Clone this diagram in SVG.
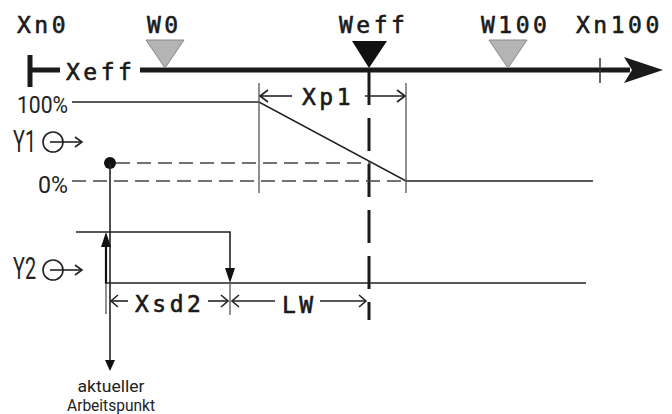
<svg xmlns="http://www.w3.org/2000/svg" width="672" height="414" viewBox="0 0 672 414">
<style>
.mono{font-family:"DejaVu Sans Mono","Liberation Mono",monospace;font-size:23px;letter-spacing:3.5px;fill:#1a1a1a;stroke:#1a1a1a;stroke-width:0.6}
.sans{font-family:"Roboto","Liberation Sans",sans-serif;font-weight:400;fill:#222}
.thin{stroke:#222;stroke-width:1.6;fill:none}
.grey{stroke:#555;stroke-width:1.3;fill:none}
.dash{stroke:#444;stroke-width:1.4;fill:none;stroke-dasharray:14 7}
.open{stroke:#222;stroke-width:1.6;fill:none;stroke-linejoin:miter}
</style>
<rect width="672" height="414" fill="#fff"/>

<g id="axis">
  <line x1="30" y1="55" x2="30" y2="87" stroke="#1a1a1a" stroke-width="5"/>
  <line x1="30" y1="70" x2="60" y2="70" stroke="#1a1a1a" stroke-width="5"/>
  <line x1="140" y1="70" x2="630" y2="70" stroke="#1a1a1a" stroke-width="5"/>
  <polygon points="624,57 663,70 624,83 632,70" fill="#1a1a1a"/>
  <line x1="600" y1="58" x2="600" y2="83" stroke="#333" stroke-width="1.5"/>
  <text class="mono" x="66" y="80">Xeff</text>
</g>

<g id="labels-top">
  <text class="mono" x="17" y="33">Xn0</text>
  <text class="mono" x="147" y="33">W0</text>
  <text class="mono" x="339" y="33">Weff</text>
  <text class="mono" x="481" y="33">W100</text>
  <text class="mono" x="576" y="33">Xn100</text>
</g>

<g id="markers">
  <polygon points="146,40 184,40 165,68" fill="#b4b4b4" stroke="#888" stroke-width="1"/>
  <polygon points="352,41 387,41 369,68" fill="#111"/>
  <polygon points="489,40 527,40 508,68" fill="#b4b4b4" stroke="#888" stroke-width="1"/>
</g>

<g id="weff-line">
  <line x1="369" y1="72" x2="369" y2="320" stroke="#1a1a1a" stroke-width="3" stroke-dasharray="33 13"/>
</g>

<g id="y1">
  <text class="sans" x="17" y="113" font-size="23" textLength="51" lengthAdjust="spacingAndGlyphs">100%</text>
  <text class="sans" x="38" y="193" font-size="24" textLength="30" lengthAdjust="spacingAndGlyphs">0%</text>
  <text class="sans" x="13" y="152" font-size="31" textLength="23" lengthAdjust="spacingAndGlyphs">Y1</text>
  <circle cx="53" cy="142" r="10" class="thin"/>
  <line x1="50" y1="142" x2="81" y2="142" class="thin"/>
  <polyline points="75,137 82,142 75,147" class="open"/>
  <polyline points="72,102 259,102 406,181 593,181" class="thin" stroke-width="1.8"/>
  <line x1="259" y1="83" x2="259" y2="193" class="grey"/>
  <line x1="406" y1="83" x2="406" y2="193" class="grey"/>
  <line x1="72" y1="181" x2="406" y2="181" class="dash"/>
  <line x1="116" y1="163" x2="371" y2="163" class="dash"/>
</g>

<g id="xp1">
  <line x1="260" y1="96" x2="292" y2="96" class="thin"/>
  <polyline points="268,90 260,96 268,102" class="open"/>
  <text class="mono" x="302" y="105">Xp1</text>
  <line x1="365" y1="96" x2="405" y2="96" class="thin"/>
  <polyline points="397,90 405,96 397,102" class="open"/>
</g>

<g id="arbeitspunkt">
  <circle cx="110" cy="163" r="6" fill="#111"/>
  <line x1="110" y1="163" x2="110" y2="362" class="thin" stroke-width="1.4"/>
  <polygon points="105,360 115,360 110,371" fill="#111"/>
  <text class="sans" x="111" y="392" font-size="17" text-anchor="middle" textLength="67" lengthAdjust="spacingAndGlyphs">aktueller</text>
  <text class="sans" x="111" y="411" font-size="17" text-anchor="middle" textLength="88" lengthAdjust="spacingAndGlyphs">Arbeitspunkt</text>
</g>

<g id="y2">
  <text class="sans" x="13" y="279" font-size="31" textLength="23" lengthAdjust="spacingAndGlyphs">Y2</text>
  <circle cx="53" cy="270" r="10" class="thin"/>
  <line x1="50" y1="270" x2="81" y2="270" class="thin"/>
  <polyline points="75,265 82,270 75,275" class="open"/>
  <polyline points="76,232 230,232 230,270" class="thin" stroke-width="1.8"/>
  <polygon points="225,268 235,268 230,283" fill="#111"/>
  <line x1="106" y1="244" x2="106" y2="284" stroke="#111" stroke-width="2.2"/>
  <polygon points="101,247 111,247 106,232" fill="#111"/>
  <line x1="106" y1="283" x2="586" y2="283" class="thin" stroke-width="1.8"/>
  <line x1="106" y1="283" x2="106" y2="314" class="grey"/>
  <line x1="230" y1="283" x2="230" y2="315" class="grey"/>
</g>

<g id="xsd2-lw">
  <line x1="111" y1="301" x2="128" y2="301" class="thin"/>
  <polyline points="118,295 111,301 118,307" class="open"/>
  <text class="mono" x="135" y="312">Xsd2</text>
  <line x1="208" y1="301" x2="228" y2="301" class="thin"/>
  <polyline points="221,295 228,301 221,307" class="open"/>
  <line x1="232" y1="301" x2="275" y2="301" class="thin"/>
  <polyline points="239,295 232,301 239,307" class="open"/>
  <text class="mono" x="282" y="313">LW</text>
  <line x1="320" y1="301" x2="366" y2="301" class="thin"/>
  <polyline points="359,295 366,301 359,307" class="open"/>
</g>
</svg>
